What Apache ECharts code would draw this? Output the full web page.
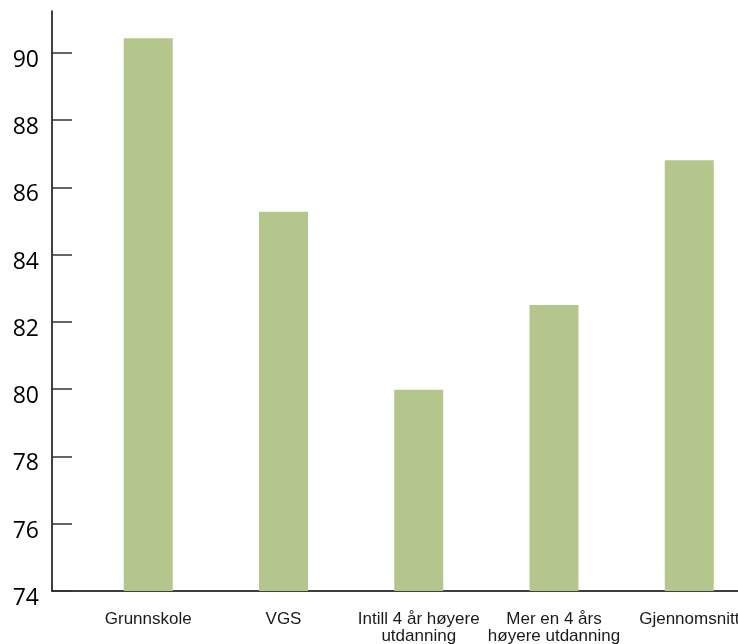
<!DOCTYPE html>
<html>
<head>
<meta charset="utf-8">
<script src="https://cdn.jsdelivr.net/npm/echarts@6/dist/echarts.min.js"></script>
<style>
  html, body { margin: 0; padding: 0; background: #ffffff; }
  #chart { width: 738px; height: 644px; }
</style>
</head>
<body>
<div id="chart"></div>
<script>
// Education level categories and their scores
const categories = [
  'Grunnskole',
  'VGS',
  'Intill 4 år høyere\nutdanning',
  'Mer en 4 års\nhøyere utdanning',
  'Gjennomsnitt'
];
const scores = [90.43, 85.27, 79.98, 82.5, 86.8];

// Value axis range and ticks
const yMin = 74;
const yMax = 91.24;
const yStep = 2;
const yTicks = [74, 76, 78, 80, 82, 84, 86, 88, 90];

const chart = echarts.init(document.getElementById('chart'), null, { renderer: 'canvas' });

const option = {
  backgroundColor: '#ffffff',
  animation: false,
  grid: [
    // Frame grid: carries the visible value axis and the baseline
    { left: 52, right: 0, top: 11, bottom: 53, outerBoundsMode: 'none', containLabel: false },
    // Plot grid: carries the category bands and the bars
    { left: 80.6, right: -18.9, top: 11, bottom: 53, outerBoundsMode: 'none', containLabel: false }
  ],
  xAxis: [
    {
      gridIndex: 0,
      type: 'value',
      min: 0,
      max: 1,
      axisLine: { show: true, onZero: false, lineStyle: { color: '#000000', width: 1.5 } },
      axisTick: { show: false },
      axisLabel: { show: false },
      splitLine: { show: false }
    },
    {
      gridIndex: 1,
      type: 'category',
      data: categories,
      axisLine: { show: false },
      axisTick: { show: false },
      splitLine: { show: false },
      axisLabel: {
        interval: 0,
        margin: 20,
        color: '#1a1a1a',
        fontFamily: '"Liberation Sans", Arial, sans-serif',
        fontSize: 17,
        lineHeight: 17,
        align: 'center',
        hideOverlap: false
      }
    }
  ],
  yAxis: [
    {
      gridIndex: 0,
      type: 'value',
      min: yMin,
      max: yMax,
      interval: yStep,
      axisLine: { show: true, lineStyle: { color: '#000000', width: 1.5 } },
      axisTick: {
        show: true,
        inside: true,
        length: 20,
        customValues: yTicks,
        lineStyle: { color: '#333333', width: 1.5 }
      },
      axisLabel: {
        show: true,
        customValues: yTicks,
        margin: 13,
        verticalAlign: 'top',
        lineHeight: 15,
        color: '#000000',
        fontFamily: '"Open Sans", "Noto Sans", sans-serif',
        fontSize: 23
      },
      splitLine: { show: false }
    },
    {
      gridIndex: 1,
      type: 'value',
      min: yMin,
      max: yMax,
      interval: yStep,
      show: false,
      splitLine: { show: false }
    }
  ],
  series: [
    {
      type: 'bar',
      xAxisIndex: 1,
      yAxisIndex: 1,
      data: scores,
      barWidth: 49,
      itemStyle: { color: '#b4c68b' },
      emphasis: { disabled: true }
    }
  ]
};

chart.setOption(option);
</script>
</body>
</html>
